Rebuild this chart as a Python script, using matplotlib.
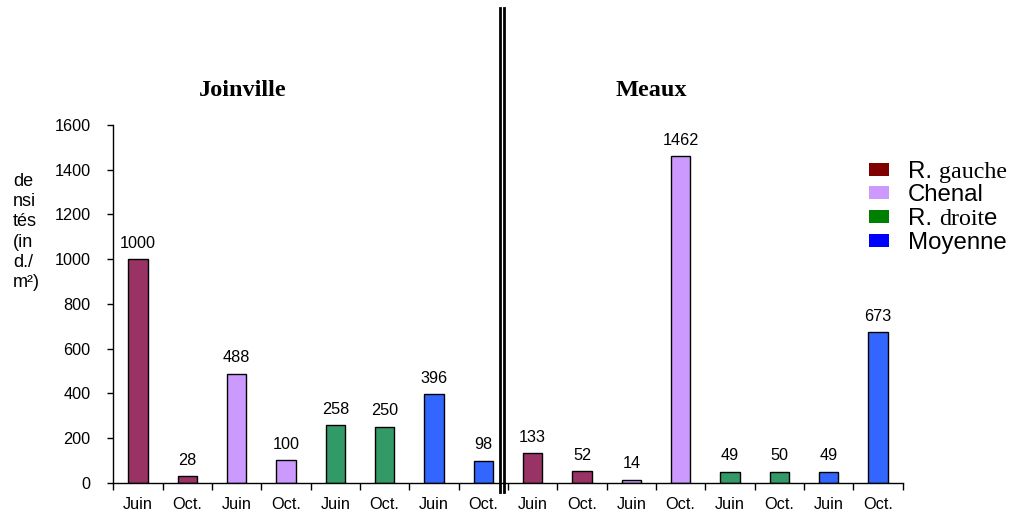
import matplotlib
matplotlib.use("Agg")
import matplotlib.pyplot as plt
from matplotlib.patches import Rectangle
from matplotlib.lines import Line2D
import numpy as np

# Densities (ind./m²) per bank position and month, for each site
sites = ["Joinville", "Meaux"]
groups = ["R. gauche", "Chenal", "R. droite", "Moyenne"]
months = ["Juin", "Oct."]
joinville = [1000, 28, 488, 100, 258, 250, 396, 98]
meaux = [133, 52, 14, 1462, 49, 50, 49, 673]

bar_colors = ["#993366", "#CC99FF", "#339966", "#3366FF"]
legend_colors = ["#800000", "#CC99FF", "#008000", "#0000FF"]

SANS = ["Liberation Sans", "DejaVu Sans"]
SERIF = ["Liberation Serif", "DejaVu Serif"]
FS = 11.7

W, H = 1010, 515
fig = plt.figure(figsize=(W / 100, H / 100), dpi=100)


def fx(px):
    return px / W


def fy(py):
    return 1 - py / H


ax = fig.add_axes([fx(113.3), fy(482.7), fx(902.7) - fx(113.3), fy(125) - fy(482.7)])

values = joinville + meaux
n = len(values)
x = np.arange(n)
colors = [bar_colors[(i % 8) // 2] for i in range(n)]
labels = [months[i % 2] for i in range(n)]

ax.bar(x, values, width=0.39, color=colors, edgecolor="black", linewidth=1.0, zorder=2)
for xi, v in zip(x, values):
    ax.annotate(str(v), xy=(xi, v), xytext=(0, 6), textcoords="offset points",
                ha="center", va="bottom", fontsize=FS, family=SANS)

ax.set_xlim(-0.5, n - 0.5)
ax.set_ylim(0, 1600)
ax.set_yticks(np.arange(0, 1601, 200))
ax.set_xticks(x)
ax.set_xticklabels(labels)
ax.set_xticks(np.arange(-0.5, n, 1.0), minor=True)
ax.tick_params(axis="x", which="major", length=0, pad=10.5, labelsize=FS)
ax.tick_params(axis="x", which="minor", length=5, width=1, direction="out")
ax.tick_params(axis="y", length=4.5, width=1, direction="out", pad=12, labelsize=FS)
for lab in ax.get_xticklabels() + ax.get_yticklabels():
    lab.set_family(SANS)
for s in ["top", "right"]:
    ax.spines[s].set_visible(False)
for s in ["left", "bottom"]:
    ax.spines[s].set_linewidth(1.0)

# Double separator between the two sites
trans = ax.get_xaxis_transform()
y0 = (482.7 - 492) / (482.7 - 125)
y1 = (482.7 - 8) / (482.7 - 125)
for xs in (7.33, 7.415):
    ax.add_line(Line2D([xs, xs], [y0, y1], transform=trans, color="black",
                       linewidth=2.0, clip_on=False, zorder=5))

# Site titles
fig.text(fx(242.5), fy(90), sites[0], ha="center", va="center", fontsize=17.5,
         fontweight="bold", family=SERIF)
fig.text(fx(651), fy(90), sites[1], ha="center", va="center", fontsize=17.5,
         fontweight="bold", family=SERIF)

# Y axis label, wrapped in a narrow column
fig.text(fx(13), fy(232), "de\nnsi\ntés\n(in\nd./\nm²)", ha="left", va="center",
         fontsize=13, family=SANS, linespacing=1.24)

# Legend, drawn by hand so each entry can mix typefaces
legend_parts = [
    [("R.", SANS), ("gauche", SERIF)],
    [("Chenal", SANS)],
    [("R.", SANS), ("droit", SERIF), ("e", SANS)],
    [("Moyenne", SANS)],
]
LFS = 17.3
sq_top = [163, 186, 210, 234]
for color, top, parts in zip(legend_colors, sq_top, legend_parts):
    fig.patches.append(Rectangle((fx(869), fy(top + 12.7)), fx(20), 12.7 / H,
                                 transform=fig.transFigure, facecolor=color,
                                 edgecolor="none"))
    base_y = fy(top + 12.7 + 2.5)
    last = fig.text(fx(908), base_y, parts[0][0], ha="left", va="baseline",
                    fontsize=LFS, family=parts[0][1])
    for k in range(1, len(parts)):
        txt, fam = parts[k]
        gap = 5.0 if parts[k - 1][0] == "R." else 0.0
        last = ax.annotate(txt, xy=(1, 0), xycoords=last, xytext=(gap, 0),
                           textcoords="offset points", ha="left", va="bottom",
                           fontsize=LFS, family=fam, annotation_clip=False)

fig.savefig("out.png", dpi=100)
